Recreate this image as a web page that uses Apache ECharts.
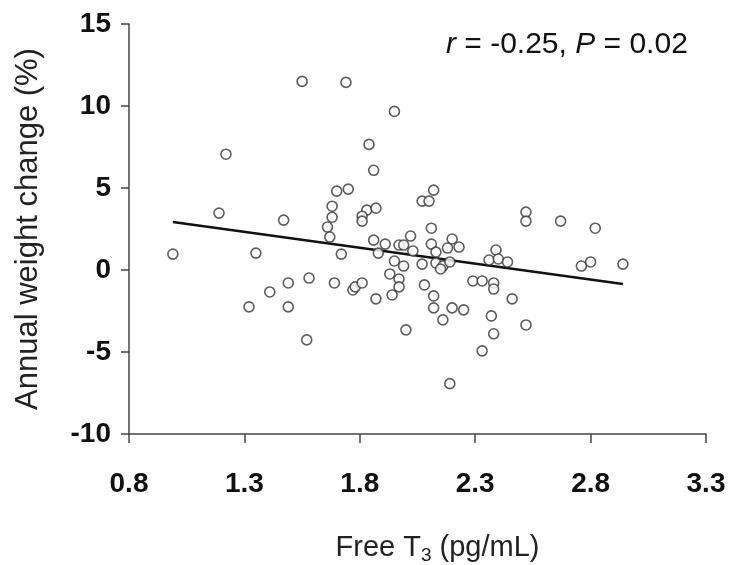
<!DOCTYPE html>
<html>
<head>
<meta charset="utf-8">
<script src="https://cdn.jsdelivr.net/npm/echarts@6/dist/echarts.min.js"></script>
<style>html,body{margin:0;padding:0;background:#fff}#c{width:736px;height:565px}</style>
</head>
<body>
<div id="c"></div>
<script>
// Free T3 (pg/mL)
var freeT3 = [0.99,1.19,1.22,1.35,1.32,1.41,1.47,1.49,1.49,1.55,1.58,1.57,1.74,1.95,1.84,1.86,1.70,1.75,1.68,1.68,
  1.66,1.67,1.83,1.87,1.81,1.81,2.07,2.10,2.12,2.11,2.02,1.86,1.72,1.91,1.97,1.99,2.11,2.20,2.23,2.18,
  2.03,2.13,1.88,2.39,1.95,1.99,2.07,2.13,2.16,2.15,2.19,2.36,2.40,2.44,2.52,2.52,2.67,2.82,2.76,2.80,
  2.94,1.69,1.77,1.78,1.81,1.93,1.97,1.97,1.94,1.87,2.08,2.12,2.12,2.16,2.20,2.25,2.29,2.33,2.38,2.38,
  2.37,2.38,2.33,2.00,2.19,2.46,2.52];
// Annual weight change (%)
var weightChange = [0.97,3.47,7.06,1.03,-2.25,-1.34,3.04,-0.79,-2.25,11.50,-0.49,-4.26,11.44,9.67,7.66,6.08,4.81,4.93,3.89,3.22,
  2.62,2.01,3.65,3.77,3.28,2.98,4.20,4.20,4.87,2.55,2.07,1.82,0.97,1.58,1.52,1.52,1.58,1.89,1.40,1.34,
  1.16,1.09,1.03,1.22,0.55,0.24,0.36,0.43,0.24,0.06,0.49,0.61,0.67,0.49,3.53,2.98,2.98,2.55,0.24,0.49,
  0.36,-0.79,-1.22,-1.03,-0.79,-0.24,-0.55,-1.03,-1.52,-1.76,-0.91,-1.58,-2.31,-3.04,-2.31,-2.43,-0.67,-0.67,-0.79,-1.16,
  -2.80,-3.89,-4.93,-3.65,-6.93,-1.76,-3.35];
// Regression line end points
var fitX = [0.99, 2.94];
var fitY = [2.92, -0.85];
var xTicks = [0.8, 1.3, 1.8, 2.3, 2.8, 3.3];
var yTicks = [-10, -5, 0, 5, 10, 15];
var annotation = ['r', ' = -0.25, ', 'P', ' = 0.02'];

var pts = freeT3.map(function(x, i){ return [x, weightChange[i]]; });
var fit = fitX.map(function(x, i){ return [x, fitY[i]]; });

var FONT = '"Liberation Sans", Arial, sans-serif';
var chart = echarts.init(document.getElementById('c'), null, {renderer: 'canvas'});
chart.setOption({
  animation: false,
  backgroundColor: '#fff',
  grid: {left: 129, right: 30, top: 24, bottom: 131, containLabel: false, outerBoundsMode: 'none'},
  xAxis: {
    type: 'value', min: xTicks[0], max: xTicks[xTicks.length-1], interval: 0.5,
    name: 'Free T{sub|3} (pg/mL)', nameLocation: 'middle', nameGap: 96,
    nameTextStyle: {fontFamily: FONT, fontSize: 29, color: '#222', padding: [0, 0, 0, 40],
      rich: {sub: {fontFamily: FONT, fontSize: 19, color: '#222', verticalAlign: 'bottom', padding: [16,0,0,0]}}},
    axisLine: {onZero: false, lineStyle: {color: '#444', width: 1.5}},
    axisTick: {show: true, length: 9, inside: false, lineStyle: {color: '#444', width: 1.5}},
    axisLabel: {fontFamily: FONT, fontWeight: 'bold', fontSize: 28, color: '#111', margin: 36,
      formatter: function(v){ return v.toFixed(1); }},
    splitLine: {show: false}
  },
  yAxis: {
    type: 'value', min: yTicks[0], max: yTicks[yTicks.length-1], interval: 5,
    name: 'Annual weight change (%)', nameLocation: 'middle', nameGap: 85, nameRotate: 90,
    nameTextStyle: {fontFamily: FONT, fontSize: 31, color: '#222'},
    axisLine: {show: true, onZero: false, lineStyle: {color: '#444', width: 1.5}},
    axisTick: {show: true, length: 8, inside: false, lineStyle: {color: '#444', width: 1.5}},
    axisLabel: {fontFamily: FONT, fontWeight: 'bold', fontSize: 28, color: '#111', margin: 18},
    splitLine: {show: false}
  },
  series: [
    {type: 'scatter', data: pts, symbol: 'circle', symbolSize: 10,
      itemStyle: {color: '#fff', borderColor: '#333', borderWidth: 1.6}, z: 3},
    {type: 'line', data: fit, symbol: 'none', lineStyle: {color: '#111', width: 2.5}, z: 2}
  ],
  graphic: [{
    type: 'text', left: 446, top: 30,
    style: {
      text: '{i|' + annotation[0] + '}{n|' + annotation[1] + '}{i|' + annotation[2] + '}{n|' + annotation[3] + '}',
      rich: {
        i: {fontFamily: FONT, fontSize: 30, fontStyle: 'italic', fill: '#111'},
        n: {fontFamily: FONT, fontSize: 30, fill: '#111'}
      }
    }
  }]
});
</script>
</body>
</html>
